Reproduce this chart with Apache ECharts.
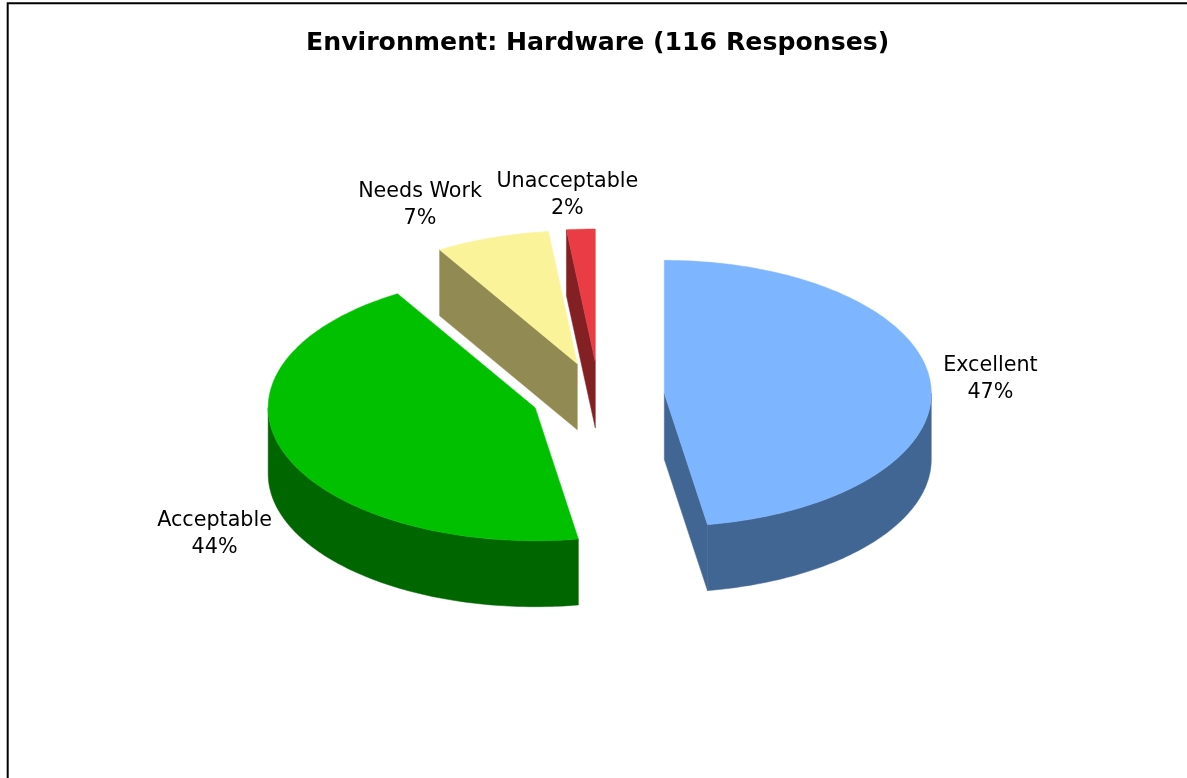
<!DOCTYPE html>
<html>
<head>
<meta charset="utf-8">
<style>html,body{margin:0;padding:0;background:#fff}#chart{width:1187px;height:778px}</style>
<script src="https://cdn.jsdelivr.net/npm/echarts@6/dist/echarts.min.js"></script>
</head>
<body>
<div id="chart"></div>
<script>
// Survey results: number of responses per rating
const categories = ['Excellent', 'Acceptable', 'Needs Work', 'Unacceptable'];
const responses = [55, 51, 8, 2];
const chartTitle = 'Environment: Hardware (116 Responses)';

// Drawing colours for each slice
const topColors = ['#7EB5FF', '#00C000', '#FBF399', '#E93C44'];
const wallColors = ['#426694', '#006600', '#918A52', '#822024'];

// Tilted pie layout
const pieCenter = [599, 396];
const radiusX = 267, radiusY = 133, depth = 66;
const explode = [65.5, 68, 68, 68];
const labelShift = [[60, -3], [-70, 80.5], [-72, -33], [-13.5, -34.5]];

const total = responses.reduce((a, b) => a + b, 0);
const rad = d => d * Math.PI / 180;

// Angles run clockwise from twelve o'clock
function rimPoint(c, deg, drop) {
  return [c[0] + radiusX * Math.sin(rad(deg)), c[1] - radiusY * Math.cos(rad(deg)) + (drop || 0)];
}
function arc(c, from, to, drop) {
  const pts = [];
  const n = Math.max(2, Math.ceil(Math.abs(to - from)));
  for (let i = 0; i <= n; i++) pts.push(rimPoint(c, from + (to - from) * i / n, drop));
  return pts;
}
function poly(points, fill) {
  return {
    type: 'polygon',
    shape: { points },
    style: { fill, stroke: fill, lineWidth: 0.5 }
  };
}

function renderSlice(params, api) {
  const i = params.dataIndex;
  const before = responses.slice(0, i).reduce((a, b) => a + b, 0);
  const start = before / total * 360;
  const end = start + api.value(0) / total * 360;
  const mid = (start + end) / 2;
  const c = [
    pieCenter[0] + explode[i] * Math.sin(rad(mid)),
    pieCenter[1] - explode[i] * 0.5 * Math.cos(rad(mid))
  ];
  const low = [c[0], c[1] + depth];
  const wall = wallColors[i];
  const children = [];

  // Radial cut faces, only those turned towards the viewer
  if (start > 180) {
    children.push(poly([c, rimPoint(c, start), rimPoint(c, start, depth), low], wall));
  }
  if (end < 180) {
    children.push(poly([c, rimPoint(c, end), rimPoint(c, end, depth), low], wall));
  }
  // Outer rim, front half only
  const a = Math.max(start, 90), b = Math.min(end, 270);
  if (b > a) {
    children.push(poly(arc(c, a, b, 0).concat(arc(c, b, a, depth)), wall));
  }
  // Top surface
  children.push(poly([c].concat(arc(c, start, end, 0)), topColors[i]));
  // Label
  const anchor = rimPoint(c, mid);
  children.push({
    type: 'text',
    style: {
      text: api.value(1) + '\n' + Math.round(api.value(0) / total * 100) + '%',
      x: anchor[0] + labelShift[i][0],
      y: anchor[1] + labelShift[i][1],
      align: 'center',
      verticalAlign: 'middle',
      fill: '#000',
      lineHeight: 27,
      font: '20.7px "DejaVu Sans"'
    }
  });
  return { type: 'group', children };
}

const chart = echarts.init(document.getElementById('chart'), null, { renderer: 'canvas' });
chart.setOption({
  animation: false,
  backgroundColor: '#fff',
  title: {
    text: chartTitle,
    left: 301,
    top: 26,
    textStyle: { fontFamily: 'DejaVu Sans', fontWeight: 'bold', fontSize: 25.2, color: '#000' }
  },
  graphic: [{
    type: 'rect',
    shape: { x: 7.7, y: 3.3, width: 1400, height: 1000 },
    style: { fill: 'none', stroke: '#000', lineWidth: 2 },
    silent: true
  }],
  series: [{
    type: 'custom',
    coordinateSystem: 'none',
    renderItem: renderSlice,
    data: categories.map((name, i) => [responses[i], name])
  }]
});
</script>
</body>
</html>
